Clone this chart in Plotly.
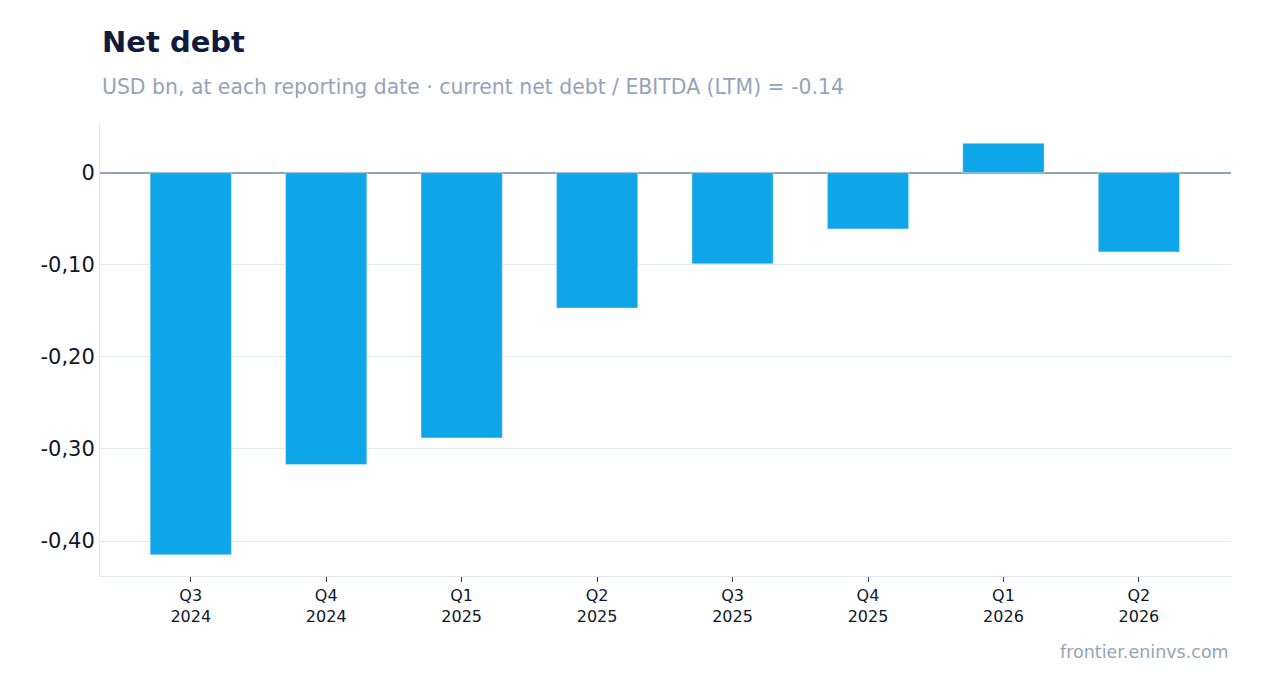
import plotly.graph_objects as go

quarters = ["Q3<br>2024", "Q4<br>2024", "Q1<br>2025", "Q2<br>2025", "Q3<br>2025", "Q4<br>2025", "Q1<br>2026", "Q2<br>2026"]
net_debt = [-0.415, -0.317, -0.288, -0.147, -0.099, -0.061, 0.032, -0.086]
tick_vals = [0, -0.1, -0.2, -0.3, -0.4]
tick_text = ["0", "-0,10", "-0,20", "-0,30", "-0,40"]

fig = go.Figure(go.Bar(x=quarters, y=net_debt, marker_color="#0ea5e9", width=0.6))
fig.update_layout(
    width=1262, height=693, plot_bgcolor="white", paper_bgcolor="white",
    font=dict(family="DejaVu Sans", color="#0f172a"),
    margin=dict(l=92, r=39, t=115, b=125),
    showlegend=False,
)
fig.add_annotation(text="<b>Net debt</b>", x=0, y=1, xref="paper", yref="paper",
                   xanchor="left", yanchor="bottom", yshift=62, showarrow=False,
                   font=dict(size=29, color="#0f1b3d"))
fig.add_annotation(text="USD bn, at each reporting date · current net debt / EBITDA (LTM) = -0.14",
                   x=0, y=1, xref="paper", yref="paper", xanchor="left", yanchor="bottom",
                   yshift=22, showarrow=False, font=dict(size=20.4, color="#94a3b8"))
fig.add_annotation(text="frontier.eninvs.com", x=1, y=0, xref="paper", yref="paper", xanchor="right",
                   yanchor="top", yshift=-64, showarrow=False, font=dict(size=17.5, color="#94a3b8"))
fig.update_xaxes(range=[-0.67, 7.68], showline=True, linecolor="#e2e8f0", ticks="outside",
                 tickcolor="#334155", ticklen=5, tickfont=dict(size=16))
fig.update_yaxes(range=[-0.438, 0.054], tickvals=tick_vals, ticktext=tick_text,
                 gridcolor="#e2e8f0", showline=True, linecolor="#e2e8f0",
                 zeroline=True, zerolinecolor="#94a3b8", zerolinewidth=2, tickfont=dict(size=21))
fig.write_html("out.html")
